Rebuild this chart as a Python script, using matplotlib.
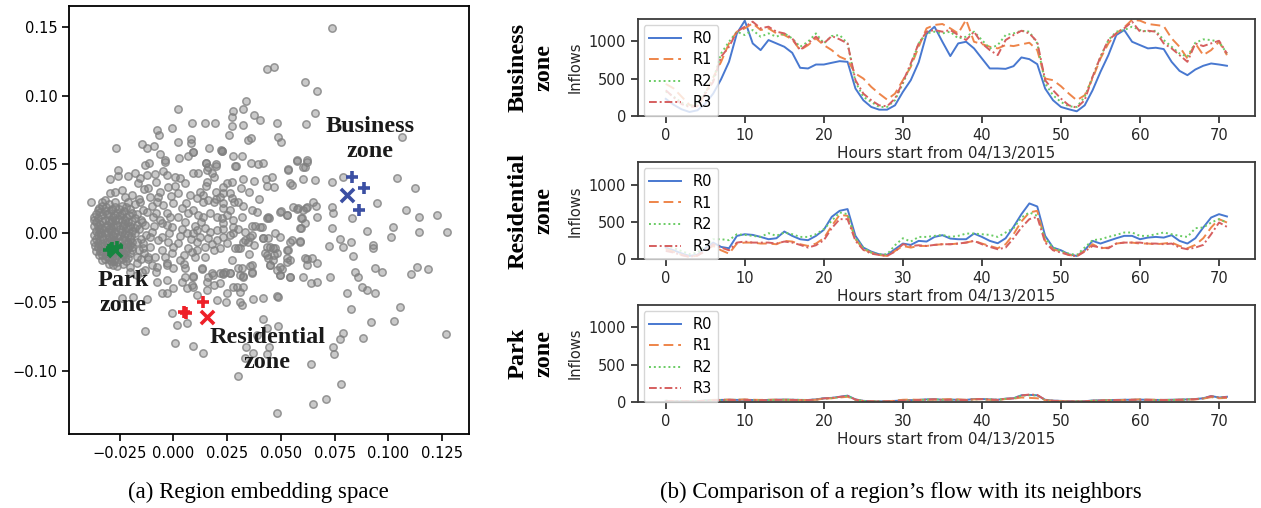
import numpy as np
import matplotlib
matplotlib.use("Agg")
import matplotlib.pyplot as plt

# ---- (a) region embedding, values in thousandths ----
emb_sparse = [
    (73.6, 149.3), (43.4, 119), (46.8, 121), (61.2, 110), (66.7, 103), (33.6, 96.3), (2.3, 90),
    (27.9, 88.8), (27.4, 84.7), (32.2, 90.2), (37.7, 85.9), (40.3, 82.2), (65.9, 87.1), (61.6, 79.3),
    (48.1, 79.8), (-0.8, 76.2), (-7.8, 75), (-6.5, 71.4), (8.8, 79.8), (14.7, 79.8), (19.4, 80.3),
    (27.1, 78.1), (32.2, 78.6), (25.9, 71.4), (48.8, 70.2), (49.9, 66.5), (34.6, 67.7), (36, 68.9),
    (106.5, 70.2), (-26.7, 62.2), (-14.7, 64.8), (-12.4, 61.7), (-8.8, 63.6), (2, 66.5), (8.1, 68.2),
    (8.1, 65.3), (9.3, 59.3), (16.6, 62.2), (22.2, 60.5), (22.8, 60), (-6.2, 57.3), (-3.9, 53.2),
    (2.8, 54.4), (7, 56.1), (15, 51.3), (19.8, 50.3), (15.5, 46), (27.9, 56.1), (31.8, 56.1),
    (29.1, 48.9), (36.1, 51.3), (39.5, 50.3), (41.9, 50.8), (53.5, 46.4), (57.7, 52.7), (62.3, 52),
    (60.2, 48.4), (65.9, 38.7), (60.5, 39.2), (55, 35.1), (73.6, 37.5), (79, 41.1), (104.2, 39.9),
    (112.4, 33.1), (94.9, 22.3), (108.1, 16.9), (114.4, 12.1), (122.5, 13.3), (127.1, 1.2),
    (102.3, 4.8), (101.1, -2.4), (114.4, 1.2), (90.2, 1.9), (83.3, 10.9), (73.6, 3.6), (73.6, 19.4),
    (74.1, 14.5), (65.1, 23), (66.4, 19.8), (61.7, 18.1), (59.2, 10.9), (59.2, 3.6), (66.7, 12.1),
    (55.8, 19.4), (57.7, 17.4), (50.1, 16.4), (52.7, 13.3), (43.7, 11.4), (44.7, 10.9), (54.3, -6),
    (58.9, -5.6), (72.6, -9), (77.5, -4.4), (78.8, -9.7), (82.6, -6), (93, -8.5), (93, -10.9),
    (83.7, -16.4), (93.8, -24.9), (96.9, -27.8), (84.5, -27.8), (86, -31.9), (87.6, -39.2),
    (89.9, -41.1), (93.8, -43.1), (80.9, -43.1), (113.2, -24.2), (118.3, -26.1), (110.5, -29.5),
    (105.4, -53.7), (102.6, -63.4), (91.8, -64.6), (88.1, -76.2), (82.5, -55.2), (126.7, -73.3),
    (78.8, -72.6), (77.5, -76.9), (74.1, -82.2), (74.9, -87.8), (78, -109.6), (70.9, -120.2),
    (65.1, -123.9), (48.4, -130.6), (63.9, -94.8), (64.3, -18.1), (62.3, -18.9), (66.7, -21.8),
    (63.9, -35.8), (66.7, -35.1), (72.9, -31.4), (49.6, -30.2), (54.3, -31.4), (50.4, -26.1),
    (46.5, -19.4), (45, -23), (48.1, -26.6), (53, -12.1), (52.7, -20.6), (43.4, -15.7), (41.9, -3.6),
    (46.5, -10.9), (43.4, -9.7), (36.4, -1.2), (40.3, 4.8), (33.3, -4.8), (31, -10.9), (36.4, -23),
    (31.8, -25.4), (36.4, -27.8), (32.2, -31), (26.4, -29), (23.3, -29), (27.9, -38.7), (31, -42.3),
    (37.2, -47.9), (41.9, -47.2), (48.1, -45.5), (48.8, -46), (31, -49.6), (31.8, -52), (24.8, -43.5),
    (41.9, -62.2), (43.4, -68.9), (48.8, -67.2), (38.8, -73.8), (44.7, -82.2), (43.4, -87.8),
    (37.2, -87.1), (33.6, -82.7), (33.3, -90.7), (29.9, -103.5), (14, -87.1), (9.3, -81.5),
    (0.8, -79.3), (-13.2, -70.9), (-24, -46.7), (-18.6, -46), (-12.1, -47.7), (-0.8, -58.1),
    (1.9, -66.5), (6.2, -65.3), (10.9, -44.8), (9.3, -38.7), (15.5, -41.1), (20.2, -48.4),
    (24.5, -49.6), (-3.1, -33.9), (0, -39.9), (-3.1, -43.5), (-5.4, -43.5), (3.9, -35.1), (6.2, -39.9),
    (8.5, -37.5), (18.6, -30.2), (23.3, -29.5), (21.7, -36.3), (5.4, -25.4), (9.3, -31), (13.2, -26.1),
    (16.3, -31.4), (-2.8, -23), (-7.8, -24.2), (-11.6, -16.9), (-17.1, -21.8), (-20.2, -24.2),
    (-14.7, -27.8), (-7.8, -35.1), (-38.4, 23),
]

emb_middle = [
    (22.5, 60.0), (9.3, 59.2), (28.7, 48.8), (15.2, 51.2), (15.9, 48.3), (19.9, 48.8), (9.3, 43.5),
    (11.7, 43.5), (17.9, 43.5), (18.7, 40.6), (15.6, 37.5), (15.2, 34.3), (24.9, 36.2), (27.2, 37.5),
    (32.3, 39.1), (37.3, 38.2), (43.1, 39.1), (45.8, 41.1), (43.5, 34.3), (47.0, 33.8), (31.5, 32.6),
    (35.4, 30.2), (23.3, 33.8), (23.0, 29.5), (21.8, 26.6), (26.4, 29.0), (27.2, 25.4), (28.3, 22.9),
    (30.3, 22.9), (12.5, 30.2), (14.0, 27.8), (10.9, 25.4), (14.0, 22.9), (16.3, 24.1), (18.7, 22.9),
    (19.9, 24.6), (23.3, 21.7), (23.3, 18.1), (26.4, 16.9), (32.6, 19.8), (36.5, 16.9), (38.8, 15.7),
    (9.3, 16.9), (11.7, 13.3), (14.0, 12.0), (17.1, 14.5), (20.2, 12.0), (22.5, 10.8), (23.3, 7.2),
    (27.9, 9.6), (31.8, 12.0), (27.9, 4.3), (30.3, 2.8), (23.3, 2.8), (20.2, 2.4), (17.1, 1.2),
    (14.8, 3.6), (10.9, 2.4), (9.3, 0.0), (12.5, -2.5), (16.3, -3.7), (20.2, -4.9), (23.3, -2.5),
    (26.4, -1.3), (27.9, 0.0), (33.4, 1.2), (36.5, 5.3), (38.0, 5.3), (41.1, 4.3), (44.2, 11.6),
    (47.3, 0.0), (44.2, -3.7), (41.9, -3.7), (35.7, -2.5), (32.6, -6.1), (28.7, -11.0), (30.3, -11.0),
    (34.9, -6.1), (37.3, -8.5), (24.9, -7.3), (21.8, -11.0), (18.7, -12.2), (14.8, -9.7),
    (10.9, -12.2), (8.6, -13.4), (14.8, -17.0), (10.1, -17.0), (45.0, -9.7), (47.3, -11.0),
    (46.6, -15.8), (42.7, -14.6), (44.2, -18.2), (48.1, -14.6), (53.5, -12.2), (52.8, -18.2),
    (54.3, -19.4), (49.7, -2.5), (55.1, -4.9), (59.0, -6.1), (49.7, 15.7), (52.8, 13.3), (58.2, 18.1),
    (62.0, 19.3), (60.5, 16.9), (59.7, 10.8), (59.0, 3.6), (61.3, 7.2), (54.3, 36.2), (57.4, 53.2),
    (61.3, 48.3), (62.1, 53.2), (53.5, 45.9), (27.2, -19.4), (13.2, -25.5), (17.9, -28.6),
    (21.8, -29.1), (24.1, -27.9), (26.4, -29.1), (30.3, -25.0), (35.7, -23.8), (36.5, -29.1),
    (31.1, -30.3), (32.6, -31.5), (49.7, -30.3), (54.3, -32.0), (45.0, -23.1), (49.7, -24.3),
    (9.3, -31.5), (15.6, -35.1), (18.7, -37.6), (29.5, -38.8), (32.6, -38.8), (60.5, -31.5),
    (61.3, -18.2), (62.1, -23.1),
    (-25.6, 45.9), (-25.6, 41.6), (-29.5, 39.1), (-20.9, 41.6), (-17.8, 44.0), (-13.2, 49.6),
    (-11.3, 51.3), (-3.9, 52.0), (-3.1, 42.3), (0.8, 40.6), (-8.5, 43.0), (-12.4, 42.3), (-15.5, 39.9),
    (-13.5, 31.9), (-16.3, 36.2), (-24.0, 31.4), (-27.1, 30.2), (-31.8, 24.1), (-29.5, 29.0),
    (-19.4, 27.8), (-22.5, 26.6), (-15.5, 22.9), (-10.8, 26.6), (-7.7, 22.9), (-4.6, 20.5),
    (-2.3, 33.8), (2.3, 29.0), (5.4, 36.2), (7.8, 27.8), (3.9, 18.1), (-1.5, 12.1), (-5.4, 7.2),
    (-0.8, 4.8), (5.4, 8.4), (-9.3, 12.1), (-12.4, 15.7), (-14.7, 8.4), (-10.1, 1.1), (-5.4, -2.5),
    (-2.3, -6.1), (2.3, -7.3), (6.2, -0.1), (-10.8, -9.7), (-5.4, -12.2), (-0.8, -14.6), (-8.5, -17.0),
    (-13.9, -10.9), (-3.1, -21.8), (-10.1, -23.0), (3.1, -19.4), (-13.2, -26.7), (5.4, -31.5),
    (-10, 20), (-8, 15), (-6, 10), (-3, 15), (0, 22), (2, 12), (4, 3), (-2, 0), (-7, -5), (-11, -3),
    (-9, 5), (0, -10), (3, -2), (7, 15), (6, 22), (-1, 27), (-6, 30), (-12, 33), (-8, 37), (1, 34),
    (-4, -17), (-12, -19), (-8, -28), (0, -25), (7, -11), (8, -4), (-3, 6), (-7, 26), (3, 40),
    (-5, 45), (10, 5), (11, -6), (5, -16), (-17, -30), (-20, -28), (13, 8), (18, -8), (25, 13),
    (35, -15), (40, 25), (20, 30), (5, -22),
]

# the dense blob near the park zone
emb_cluster = [
    (-33, 20), (-30, 21), (-27, 19), (-24, 20), (-20, 18),
    (-35, 17), (-32, 16), (-29, 17), (-26, 15), (-23, 16), (-19, 15),
    (-36, 14), (-33, 13), (-31, 14), (-28, 12), (-25, 13), (-22, 12), (-18, 11),
    (-35, 11), (-32, 10), (-30, 9), (-27, 10), (-24, 9), (-21, 8),
    (-36, 8), (-34, 7), (-31, 6), (-29, 8), (-26, 6), (-23, 7), (-20, 5), (-17, 6),
    (-35, 5), (-33, 4), (-30, 3), (-28, 5), (-25, 3), (-22, 4), (-19, 2),
    (-36, 2), (-34, 1), (-32, 0), (-29, 2), (-27, 0), (-24, 1), (-21, -1), (-18, 0),
    (-35, -1), (-33, -2), (-30, -3), (-28, -1), (-26, -3), (-23, -2), (-20, -4),
    (-36, -4), (-34, -5), (-31, -6), (-29, -4), (-27, -6), (-24, -5), (-21, -7), (-17, -6),
    (-35, -7), (-33, -8), (-30, -9), (-28, -7), (-25, -9), (-22, -8), (-19, -10),
    (-35, -10), (-32, -11), (-30, -12), (-27, -10), (-24, -12), (-21, -11),
    (-34, -13), (-31, -14), (-29, -15), (-26, -13), (-23, -15), (-20, -14),
    (-33, -16), (-30, -17), (-27, -18), (-24, -16), (-21, -18),
    (-32, -19), (-29, -20), (-26, -21), (-22, -20),
    (-30, -22), (-26, -24), (-17, -17), (-16, -12), (-15, -4), (-16, 3), (-15, 10), (-17, 14),
    (-34.5, 18.5), (-31.5, 19), (-28.5, 18), (-25.5, 17.5), (-22, 19), (-37, 12), (-34, 15.5),
    (-30, 15), (-27, 13.5), (-24, 14), (-20.5, 13), (-37, 9.5), (-33, 9), (-28.5, 9.5), (-25.5, 10.5),
    (-22.5, 10), (-19, 9), (-37, 5), (-34.5, 3), (-31.5, 4.5), (-29, 4), (-26.5, 4.5), (-23.5, 5.5),
    (-21, 3.5), (-18, 4), (-37, -1), (-33.5, 0.5), (-30.5, 1), (-28, -2), (-25, -1.5), (-22.5, 0.5),
    (-19.5, -2), (-37, -6), (-32.5, -4), (-30, -5.5), (-27.5, -4.5), (-25, -7), (-22.5, -5), (-19, -6),
    (-36.5, -9), (-33.5, -9.5), (-31, -8), (-28.5, -11), (-26, -8.5), (-23, -10), (-20, -8.5),
    (-36, -12.5), (-33, -13), (-30.5, -12.5), (-27.5, -14.5), (-25, -12.5), (-22, -13), (-19, -12),
    (-34.5, -15.5), (-31.5, -16.5), (-28.5, -17), (-25.5, -15), (-22.5, -17), (-33, -19.5),
    (-30, -19), (-27.5, -20), (-24, -19), (-28, -23), (-23.5, -22.5), (-14, 17), (-13, 6),
    (-12.5, -1), (-14, -7), (-13.5, -14), (-15, -19), (-18, 21), (-16, 25), (-21, 23), (-27, 23),
    (-33, 22.5),
]

park_cross = [(-27.1, -12.1)]
park_plus = [(-28.7, -10.9), (-26.0, -10.2), (-29.8, -12.1)]
res_cross = [(15.8, -61.0)]
res_plus = [(14.0, -49.6), (5.0, -57.3), (6.0, -57.5)]
biz_cross = [(80.6, 27.8)]
biz_plus = [(83.3, 41.1), (88.8, 33.1), (86.4, 16.9)]

# ---- (b) inflows per hour ----
hours = np.arange(72)
series_names = ["R0", "R1", "R2", "R3"]

business = [
    [230, 150, 90, 54, 76, 166, 300, 493, 726, 1107, 1278, 973, 883, 1018, 973, 928, 847, 646, 637, 690,
     690, 713, 735, 726, 368, 211, 121, 85, 85, 143, 323, 480, 720, 1100, 1197, 995, 803, 973, 995, 906,
     771, 637, 637, 632, 668, 785, 762, 695, 368, 211, 121, 90, 63, 143, 345, 592, 816, 1085, 1152, 995,
     950, 906, 915, 897, 726, 605, 547, 623, 673, 704, 690, 673],
    [430, 370, 260, 150, 125, 300, 516, 726, 973, 1130, 1175, 1242, 1152, 1175, 1107, 1085, 1027, 883, 950, 1040,
     950, 883, 794, 749, 569, 502, 390, 300, 220, 300, 480, 659, 928, 1175, 1220, 1233, 1175, 1107, 1290, 995,
     964, 928, 906, 950, 937, 960, 982, 883, 502, 480, 399, 300, 211, 278, 502, 771, 973, 1107, 1188, 1290,
     1278, 1233, 1220, 1206, 1040, 928, 771, 973, 816, 883, 995, 816],
    [330, 260, 180, 130, 170, 320, 480, 838, 995, 1130, 1085, 1152, 1063, 1107, 1063, 1107, 1040, 928, 995, 1107,
     973, 1072, 1085, 973, 457, 256, 188, 121, 121, 211, 435, 681, 973, 1107, 1130, 1107, 1130, 1040, 1063, 1130,
     1018, 906, 950, 1085, 1107, 1143, 1130, 973, 435, 278, 188, 130, 121, 256, 525, 794, 1018, 1130, 1152, 1197,
     1152, 1130, 1143, 1018, 928, 838, 794, 982, 1027, 1018, 995, 838],
    [345, 250, 160, 121, 130, 300, 457, 794, 928, 1130, 1197, 1264, 1175, 1197, 1130, 1107, 1040, 883, 973, 1063,
     973, 1072, 1027, 973, 480, 300, 211, 143, 130, 233, 457, 704, 973, 1130, 1152, 1130, 1152, 1085, 1018, 1130,
     973, 883, 816, 1018, 1085, 1143, 1107, 995, 480, 345, 233, 143, 112, 211, 525, 794, 1018, 1107, 1175, 1264,
     1130, 1143, 1130, 973, 906, 816, 726, 973, 937, 973, 1008, 838],
]

residential = [
    [157, 120, 80, 45, 60, 150, 224, 166, 148, 314, 336, 327, 300, 269, 282, 372, 314, 269, 256, 314,
     395, 569, 650, 673, 314, 157, 103, 67, 58, 135, 211, 193, 247, 238, 300, 323, 278, 269, 269, 345,
     300, 247, 215, 282, 435, 605, 749, 708, 314, 157, 121, 67, 45, 121, 247, 211, 247, 282, 314, 314,
     269, 291, 300, 291, 323, 247, 211, 282, 426, 560, 605, 574],
    [135, 100, 60, 31, 50, 120, 179, 121, 76, 211, 224, 224, 211, 211, 202, 247, 238, 202, 179, 211,
     282, 448, 596, 583, 269, 135, 90, 58, 45, 112, 179, 157, 179, 179, 193, 202, 202, 211, 224, 247,
     211, 179, 148, 202, 336, 507, 628, 650, 247, 135, 103, 58, 45, 112, 202, 148, 157, 211, 224, 224,
     211, 211, 202, 211, 224, 179, 148, 193, 282, 426, 538, 493],
    [179, 150, 110, 70, 90, 180, 269, 269, 256, 336, 327, 314, 300, 350, 314, 359, 336, 300, 300, 336,
     404, 516, 628, 605, 282, 157, 90, 67, 67, 188, 282, 238, 300, 300, 314, 327, 300, 314, 345, 345,
     336, 327, 300, 359, 417, 560, 628, 583, 282, 157, 112, 76, 58, 157, 256, 269, 300, 327, 359, 359,
     314, 314, 336, 359, 336, 314, 300, 417, 426, 493, 538, 493],
    [112, 90, 55, 35, 50, 110, 202, 157, 121, 224, 238, 224, 224, 224, 211, 238, 224, 193, 157, 188,
     256, 417, 538, 538, 247, 126, 76, 58, 45, 103, 202, 179, 188, 179, 193, 202, 202, 211, 224, 247,
     202, 166, 135, 157, 282, 426, 538, 569, 224, 121, 90, 58, 40, 103, 179, 157, 148, 211, 224, 224,
     224, 211, 211, 202, 211, 157, 135, 157, 193, 336, 493, 435],
]

park = [
    [15, 10, 8, 8, 10, 20, 25, 28, 30, 28, 30, 27, 25, 28, 30, 32, 30, 28, 27, 35,
     50, 55, 70, 85, 35, 15, 10, 8, 10, 15, 22, 25, 28, 35, 38, 30, 32, 30, 28, 40,
     40, 35, 30, 45, 50, 90, 95, 90, 30, 18, 15, 10, 8, 10, 20, 22, 25, 28, 30, 30,
     32, 30, 28, 28, 30, 32, 35, 40, 50, 80, 60, 70],
    [12, 8, 6, 6, 8, 18, 28, 30, 32, 30, 35, 30, 28, 30, 32, 30, 28, 26, 25, 30,
     45, 50, 60, 70, 30, 12, 8, 6, 8, 18, 30, 32, 30, 30, 32, 35, 38, 35, 30, 35,
     38, 30, 28, 40, 45, 60, 55, 50, 25, 15, 12, 8, 6, 8, 15, 20, 22, 25, 28, 32,
     35, 32, 30, 28, 28, 30, 32, 35, 45, 65, 50, 55],
    [18, 12, 10, 10, 12, 22, 25, 26, 28, 30, 28, 26, 25, 26, 28, 30, 30, 28, 26, 32,
     48, 52, 65, 80, 32, 15, 10, 8, 10, 14, 20, 24, 26, 32, 34, 30, 30, 28, 26, 36,
     38, 34, 30, 42, 48, 85, 90, 88, 28, 16, 14, 10, 8, 10, 18, 20, 24, 26, 28, 28,
     30, 28, 26, 26, 28, 30, 34, 38, 48, 75, 58, 65],
    [14, 10, 8, 8, 10, 18, 24, 26, 28, 26, 28, 25, 24, 26, 28, 30, 28, 26, 25, 32,
     48, 54, 68, 82, 32, 14, 9, 7, 9, 14, 20, 23, 26, 32, 36, 28, 30, 28, 26, 38,
     38, 33, 28, 44, 48, 88, 100, 95, 28, 16, 14, 9, 7, 9, 18, 20, 23, 26, 28, 28,
     30, 28, 26, 26, 28, 30, 33, 38, 48, 78, 58, 68],
]

zones = [("Business\nzone", business), ("Residential\nzone", residential), ("Park\nzone", park)]

colors = ["#4878d0", "#ee854a", "#6acc64", "#d65f5f"]
styles = ["-", (0, (5, 2.5)), (0, (1, 1.5)), (0, (4, 1.5, 1, 1.5))]

W, H = 1261, 508
fig = plt.figure(figsize=(W / 100, H / 100), dpi=100)

narrow = ["Liberation Sans Narrow", "DejaVu Sans"]
serif = ["Liberation Serif", "DejaVu Serif"]

# ---- left panel ----
ax = fig.add_axes([69.3 / W, 1 - 434.3 / H, 399.4 / W, 428.3 / H])
pts = np.array(emb_sparse + emb_middle + emb_cluster) / 1000.0
ax.scatter(pts[:, 0], pts[:, 1], s=28, facecolor=(0.5, 0.5, 0.5, 0.42),
           edgecolor=(0.5, 0.5, 0.5, 0.8), linewidths=1.1, zorder=2)

for cross, plus, col in [(biz_cross, biz_plus, "#3b4fa3"), (res_cross, res_plus, "#ee2028"),
                         (park_cross, park_plus, "#16853f")]:
    c = np.array(cross) / 1000.0
    p = np.array(plus) / 1000.0
    ax.scatter(p[:, 0], p[:, 1], marker="+", s=80, linewidths=2.6, color=col, zorder=4)
    ax.scatter(c[:, 0], c[:, 1], marker="x", s=90, linewidths=2.6, color=col, zorder=4)

lbl = dict(fontsize=17.5, fontweight="bold", family=serif, ha="center", va="center",
           linespacing=1.25, color="#1a1a1a", zorder=5)
ax.text(0.0915, 0.0684, "Business\nzone", **lbl)
ax.text(-0.0234, -0.0433, "Park\nzone", **lbl)
ax.text(0.0438, -0.0847, "Residential\nzone", **lbl)

ax.set_xlim(-0.0484, 0.1374)
ax.set_ylim(-0.1459, 0.165)
ax.set_xticks([-0.025, 0.0, 0.025, 0.05, 0.075, 0.1, 0.125])
ax.set_xticklabels(["\u22120.025", "0.000", "0.025", "0.050", "0.075", "0.100", "0.125"])
ax.set_yticks([-0.1, -0.05, 0.0, 0.05, 0.1, 0.15])
ax.set_yticklabels(["\u22120.10", "\u22120.05", "0.00", "0.05", "0.10", "0.15"])
ax.tick_params(direction="out", length=5, width=1.2, labelsize=10.5, color="black")
for t in ax.get_xticklabels() + ax.get_yticklabels():
    t.set_family(narrow)
for sp in ax.spines.values():
    sp.set_linewidth(1.3)
    sp.set_color("black")

# ---- right panels ----
tops = [19.0, 162.3, 305.0]
for (name, data), top in zip(zones, tops):
    axr = fig.add_axes([637.7 / W, 1 - (top + 97.0) / H, 617.3 / W, 97.0 / H])
    for vals, lab, col, ls in zip(data, series_names, colors, styles):
        axr.plot(hours, vals, color=col, linestyle=ls, linewidth=1.4, label=lab)
    axr.set_ylim(0, 1300)
    axr.set_xlim(-3.55, 74.55)
    axr.set_yticks([0, 500, 1000])
    axr.set_xticks(range(0, 80, 10))
    axr.set_ylabel("Inflows", fontsize=10.5, color="#262626", labelpad=4)
    axr.set_xlabel("Hours start from 04/13/2015", fontsize=11, color="#262626", labelpad=2)
    axr.tick_params(direction="out", length=5, width=1.2, labelsize=10.5,
                    color="#262626", labelcolor="#262626")
    for sp in axr.spines.values():
        sp.set_linewidth(1.3)
        sp.set_color("#3a3a3a")
    axr.legend(loc="upper left", fontsize=10.5, frameon=True, framealpha=0.8,
               borderaxespad=0.4, labelspacing=0.45, handlelength=2.2)
    fig.text(531 / W, 1 - (top + 48.5) / H, name, rotation=90, fontsize=17.5,
             fontweight="bold", family=serif, ha="center", va="center", linespacing=1.3)

# ---- captions ----
fig.text(258 / W, 1 - 492 / H, "(a) Region embedding space", fontsize=16.5, family=serif,
         ha="center", va="center")
fig.text(901 / W, 1 - 492 / H, "(b) Comparison of a region\u2019s flow with its neighbors",
         fontsize=16.5, family=serif, ha="center", va="center")

fig.savefig("out.png", dpi=100)
